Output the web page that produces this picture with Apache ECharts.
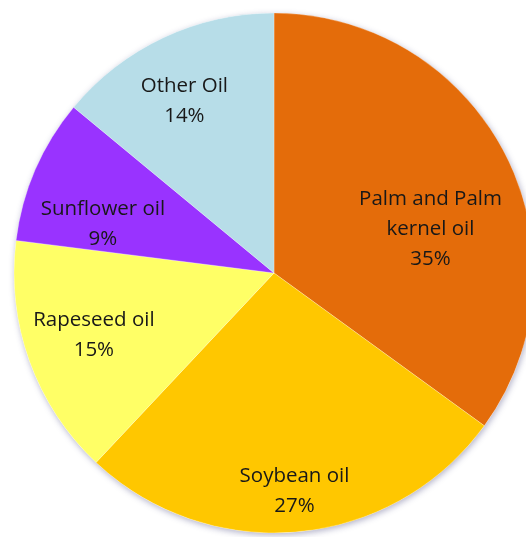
<!DOCTYPE html>
<html>
<head>
<meta charset="utf-8">
<script src="https://cdn.jsdelivr.net/npm/echarts@6/dist/echarts.min.js"></script>
<style>
  html, body { margin: 0; padding: 0; background: #ffffff; }
  #chart { width: 526px; height: 537px; }
</style>
</head>
<body>
<div id="chart"></div>
<script>
// Share of world vegetable oil production (%)
const categories = ['Palm and Palm\nkernel oil', 'Soybean oil', 'Rapeseed oil', 'Sunflower oil', 'Other Oil'];
const shares = [35, 27, 15, 9, 14];

// Slice colours, in category order
const sliceColors = ['#E46C0A', '#FFC700', '#FFFF66', '#9933FF', '#B7DDE8'];
// Label nudges from the default inside position, in category order
const labelOffsets = [[38, 17], [8, 86], [-55, 17], [-49, 4], [-33, -52]];

const total = shares.reduce((a, b) => a + b, 0);
const chart = echarts.init(document.getElementById('chart'), null, { renderer: 'canvas' });

const pieCenter = [274, 273];
const pieRadius = [0, 260];

chart.setOption({
  backgroundColor: '#ffffff',
  animation: false,
  series: [
    {
      // soft drop shadow under the whole disc
      type: 'pie',
      silent: true,
      z: 1,
      center: pieCenter,
      radius: pieRadius,
      label: { show: false },
      labelLine: { show: false },
      itemStyle: {
        color: '#ffffff',
        shadowBlur: 6,
        shadowOffsetX: 1,
        shadowOffsetY: 2,
        shadowColor: 'rgba(60,60,120,0.4)'
      },
      data: [{ name: 'total', value: total }]
    },
    {
      type: 'pie',
      z: 2,
      center: pieCenter,
      radius: pieRadius,
      startAngle: 90,
      clockwise: true,
      avoidLabelOverlap: false,
      itemStyle: {
        borderColor: 'rgba(255,255,255,0.5)',
        borderWidth: 0.5
      },
      label: {
        show: true,
        position: 'inside',
        formatter: p => p.name + '\n' + p.value + '%',
        fontFamily: '"Open Sans", sans-serif',
        fontSize: 20.5,
        lineHeight: 30,
        color: '#181818',
        align: 'center'
      },
      labelLine: { show: false },
      emphasis: { disabled: true },
      data: categories.map((name, i) => ({
        name: name,
        value: shares[i],
        itemStyle: { color: sliceColors[i] },
        label: { offset: labelOffsets[i] }
      }))
    }
  ]
});
</script>
</body>
</html>
